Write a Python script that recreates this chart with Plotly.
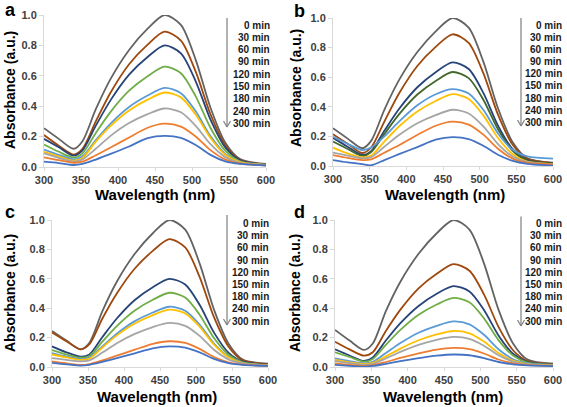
import plotly.graph_objects as go

# ---------------- data ----------------
WAVELENGTH = [300, 320, 340, 352, 370, 390, 415, 440, 463, 485, 505, 525, 545, 565, 600]
TIMES = ["0 min", "30 min", "60 min", "90 min", "120 min", "150 min", "180 min", "240 min", "300 min"]
X_TICKS = [300, 350, 400, 450, 500, 550, 600]
Y_TICKS = [0.0, 0.2, 0.4, 0.6, 0.8, 1.0]
PANEL_LABELS = ["a", "b", "c", "d"]

PANEL_A = [
    [0.255, 0.185, 0.12, 0.17, 0.38, 0.58, 0.77, 0.91, 1.0, 0.935, 0.705, 0.39, 0.16, 0.052, 0.02],
    [0.21, 0.14, 0.082, 0.12, 0.30, 0.49, 0.676, 0.805, 0.89, 0.832, 0.627, 0.347, 0.143, 0.048, 0.017],
    [0.185, 0.13, 0.075, 0.11, 0.272, 0.44, 0.608, 0.724, 0.80, 0.748, 0.564, 0.312, 0.129, 0.044, 0.016],
    [0.148, 0.10, 0.062, 0.09, 0.224, 0.363, 0.502, 0.597, 0.66, 0.617, 0.465, 0.257, 0.107, 0.038, 0.015],
    [0.115, 0.08, 0.05, 0.07, 0.177, 0.286, 0.395, 0.47, 0.52, 0.486, 0.367, 0.203, 0.086, 0.033, 0.013],
    [0.10, 0.07, 0.041, 0.06, 0.167, 0.27, 0.372, 0.443, 0.49, 0.458, 0.345, 0.191, 0.081, 0.032, 0.013],
    [0.09, 0.06, 0.035, 0.05, 0.12, 0.205, 0.289, 0.348, 0.385, 0.36, 0.271, 0.15, 0.065, 0.027, 0.012],
    [0.064, 0.045, 0.028, 0.035, 0.077, 0.128, 0.194, 0.258, 0.285, 0.266, 0.201, 0.111, 0.049, 0.023, 0.011],
    [0.035, 0.026, 0.013, 0.02, 0.049, 0.086, 0.135, 0.19, 0.205, 0.192, 0.145, 0.08, 0.037, 0.02, 0.01],
]
PANEL_B = [
    [0.255, 0.185, 0.12, 0.17, 0.38, 0.58, 0.77, 0.91, 1.0, 0.935, 0.705, 0.39, 0.16, 0.052, 0.022],
    [0.215, 0.15, 0.088, 0.125, 0.30, 0.49, 0.676, 0.805, 0.89, 0.832, 0.627, 0.347, 0.143, 0.048, 0.02],
    [0.19, 0.13, 0.075, 0.10, 0.238, 0.385, 0.532, 0.634, 0.70, 0.655, 0.494, 0.273, 0.114, 0.04, 0.018],
    [0.165, 0.115, 0.068, 0.095, 0.216, 0.349, 0.483, 0.575, 0.635, 0.594, 0.448, 0.248, 0.103, 0.037, 0.02],
    [0.198, 0.15, 0.108, 0.125, 0.20, 0.30, 0.41, 0.485, 0.52, 0.49, 0.38, 0.22, 0.11, 0.065, 0.05],
    [0.124, 0.085, 0.059, 0.07, 0.165, 0.267, 0.369, 0.439, 0.485, 0.453, 0.342, 0.189, 0.08, 0.03, 0.012],
    [0.09, 0.07, 0.052, 0.06, 0.13, 0.209, 0.289, 0.344, 0.38, 0.355, 0.268, 0.148, 0.064, 0.027, 0.012],
    [0.074, 0.055, 0.04, 0.045, 0.09, 0.14, 0.21, 0.272, 0.30, 0.28, 0.212, 0.117, 0.05, 0.022, 0.01],
    [0.04, 0.025, 0.012, 0.005, 0.04, 0.08, 0.128, 0.178, 0.195, 0.182, 0.137, 0.076, 0.035, 0.015, 0.003],
]
PANEL_C = [
    [0.245, 0.18, 0.12, 0.165, 0.38, 0.58, 0.77, 0.91, 1.0, 0.935, 0.705, 0.39, 0.16, 0.05, 0.022],
    [0.235, 0.175, 0.12, 0.155, 0.33, 0.50, 0.67, 0.79, 0.87, 0.813, 0.613, 0.339, 0.14, 0.045, 0.02],
    [0.14, 0.10, 0.07, 0.085, 0.204, 0.33, 0.456, 0.543, 0.60, 0.561, 0.423, 0.234, 0.098, 0.036, 0.014],
    [0.115, 0.085, 0.063, 0.075, 0.172, 0.278, 0.384, 0.457, 0.505, 0.472, 0.356, 0.197, 0.083, 0.032, 0.012],
    [0.095, 0.072, 0.054, 0.065, 0.14, 0.226, 0.312, 0.371, 0.41, 0.383, 0.289, 0.16, 0.069, 0.028, 0.011],
    [0.085, 0.065, 0.048, 0.058, 0.133, 0.215, 0.296, 0.353, 0.39, 0.365, 0.275, 0.152, 0.066, 0.027, 0.011],
    [0.06, 0.048, 0.038, 0.045, 0.098, 0.162, 0.225, 0.272, 0.30, 0.28, 0.212, 0.117, 0.052, 0.024, 0.01],
    [0.038, 0.025, 0.014, 0.02, 0.045, 0.077, 0.118, 0.158, 0.175, 0.164, 0.123, 0.068, 0.032, 0.016, 0.008],
    [0.028, 0.018, 0.01, 0.015, 0.035, 0.06, 0.093, 0.127, 0.14, 0.131, 0.099, 0.055, 0.026, 0.014, 0.007],
]
PANEL_D = [
    [0.252, 0.18, 0.116, 0.16, 0.38, 0.58, 0.77, 0.91, 1.0, 0.935, 0.705, 0.39, 0.16, 0.05, 0.022],
    [0.172, 0.12, 0.077, 0.10, 0.245, 0.39, 0.535, 0.634, 0.70, 0.655, 0.494, 0.273, 0.114, 0.04, 0.018],
    [0.12, 0.078, 0.041, 0.065, 0.18, 0.298, 0.415, 0.498, 0.55, 0.514, 0.388, 0.215, 0.09, 0.034, 0.016],
    [0.10, 0.068, 0.037, 0.055, 0.15, 0.252, 0.355, 0.425, 0.47, 0.44, 0.331, 0.183, 0.078, 0.03, 0.015],
    [0.059, 0.04, 0.025, 0.035, 0.095, 0.163, 0.233, 0.28, 0.31, 0.29, 0.219, 0.121, 0.053, 0.024, 0.012],
    [0.048, 0.032, 0.02, 0.028, 0.072, 0.125, 0.182, 0.222, 0.245, 0.229, 0.173, 0.096, 0.043, 0.02, 0.011],
    [0.04, 0.027, 0.015, 0.022, 0.058, 0.103, 0.151, 0.185, 0.205, 0.192, 0.145, 0.08, 0.037, 0.018, 0.01],
    [0.025, 0.015, 0.007, 0.012, 0.034, 0.062, 0.093, 0.118, 0.13, 0.122, 0.092, 0.051, 0.025, 0.014, 0.008],
    [0.014, 0.008, 0.003, 0.007, 0.022, 0.04, 0.06, 0.077, 0.085, 0.08, 0.06, 0.034, 0.018, 0.011, 0.006],
]

# ---------------- styles ----------------
COLORS = ["#636363", "#9E480E", "#264478", "#70AD47", "#5B9BD5",
          "#FFC000", "#A5A5A5", "#ED7D31", "#4472C4"]
COLORS_B = ["#636363", "#9E480E", "#264478", "#43682B", "#5B9BD5",
            "#FFC000", "#A5A5A5", "#ED7D31", "#4472C4"]

W, H = 567, 407
FONT = "Liberation Sans, Arial, sans-serif"

# panel boxes in pixels: x0, x1, ytop, ybottom
BOXES = [(44, 266, 15, 167), (333, 553, 18, 166), (52, 268, 220, 367), (335, 553, 220, 367)]
# legend: right edge, first line y, spacing; arrow x, top, bottom
LEG = [
    (272, 25, 12.3, 227, 18, 127),
    (564, 25, 12.2, 521, 18, 126),
    (271, 223.5, 12.2, 227, 215, 325),
    (564, 223.5, 12.2, 521, 216.5, 326),
]
LETTER_POS = [(3, 10), (292, 11), (3, 212), (292, 212)]
YTITLE_POS = [(10, 90), (296, 88), (10, 293), (295, 293)]
XTITLE_POS = [(155, 194), (445, 194), (157, 396), (443, 396)]


def px(x):
    return x / W


def py(y):
    return 1 - y / H


panels = [PANEL_A, PANEL_B, PANEL_C, PANEL_D]
fig = go.Figure()
annotations = []
shapes = []
tick_font = dict(family=FONT, size=11, color="#404040", weight="bold")

for p, data in enumerate(panels):
    n = p + 1
    xa = "x" if n == 1 else f"x{n}"
    ya = "y" if n == 1 else f"y{n}"
    cols = COLORS_B if p == 1 else COLORS
    for i, series in enumerate(data):
        fig.add_trace(go.Scatter(
            x=WAVELENGTH, y=series, mode="lines", name=TIMES[i],
            line=dict(color=cols[i], width=1.8, shape="spline", smoothing=0.8),
            xaxis=xa, yaxis=ya, showlegend=False,
        ))
    x0, x1, yt, yb = BOXES[p]
    fig.layout[f"xaxis{'' if n == 1 else n}"] = dict(
        domain=[px(x0), px(x1)], anchor=ya, range=[300, 600], automargin=False,
        tickvals=X_TICKS, tickfont=tick_font, showgrid=False, zeroline=False,
        showline=True, linecolor="#D9D9D9", linewidth=1,
        ticks="outside", ticklen=3, tickcolor="#D9D9D9",
    )
    fig.layout[f"yaxis{'' if n == 1 else n}"] = dict(
        domain=[py(yb), py(yt)], anchor=xa, range=[0, 1.0], automargin=False,
        tickvals=Y_TICKS, tickformat=".1f", tickfont=tick_font,
        showgrid=False, zeroline=False,
        showline=True, linecolor="#D9D9D9", linewidth=1,
        ticks="outside", ticklen=4, tickcolor="#D9D9D9",
    )
    # legend text
    rx, ly0, sp, ax, at, ab = LEG[p]
    for i, t in enumerate(TIMES):
        annotations.append(dict(
            xref="paper", yref="paper", x=px(rx), y=py(ly0 + i * sp),
            xanchor="right", yanchor="middle", text=t, showarrow=False,
            font=dict(family=FONT, size=10, color="#1a1a1a", weight="bold"),
        ))
    # arrow
    shapes.append(dict(type="line", xref="paper", yref="paper",
                       x0=px(ax), x1=px(ax), y0=py(at), y1=py(ab),
                       line=dict(color="#7F7F7F", width=1.2)))
    shapes.append(dict(type="line", xref="paper", yref="paper",
                       x0=px(ax - 3.5), x1=px(ax), y0=py(ab - 6), y1=py(ab),
                       line=dict(color="#7F7F7F", width=1.2)))
    shapes.append(dict(type="line", xref="paper", yref="paper",
                       x0=px(ax + 3.5), x1=px(ax), y0=py(ab - 6), y1=py(ab),
                       line=dict(color="#7F7F7F", width=1.2)))
    # panel letter
    lx, lyy = LETTER_POS[p]
    annotations.append(dict(
        xref="paper", yref="paper", x=px(lx), y=py(lyy), xanchor="left", yanchor="middle",
        text=PANEL_LABELS[p], showarrow=False,
        font=dict(family=FONT, size=18, color="#000000", weight="bold"),
    ))
    # axis titles
    tx, ty = YTITLE_POS[p]
    annotations.append(dict(
        xref="paper", yref="paper", x=px(tx), y=py(ty), xanchor="center", yanchor="middle",
        text="Absorbance (a.u.)", textangle=-90, showarrow=False,
        font=dict(family=FONT, size=14, color="#000000", weight="bold"),
    ))
    tx, ty = XTITLE_POS[p]
    annotations.append(dict(
        xref="paper", yref="paper", x=px(tx), y=py(ty), xanchor="center", yanchor="middle",
        text="Wavelength (nm)", showarrow=False,
        font=dict(family=FONT, size=15, color="#000000", weight="bold"),
    ))

fig.update_layout(
    width=W, height=H, margin=dict(l=0, r=0, t=0, b=0, autoexpand=False),
    paper_bgcolor="white", plot_bgcolor="white",
    annotations=annotations, shapes=shapes, showlegend=False,
)
fig.write_html("out.html", config={"displayModeBar": False},
               post_script="document.body.style.margin='0';document.body.style.overflow='hidden';")
